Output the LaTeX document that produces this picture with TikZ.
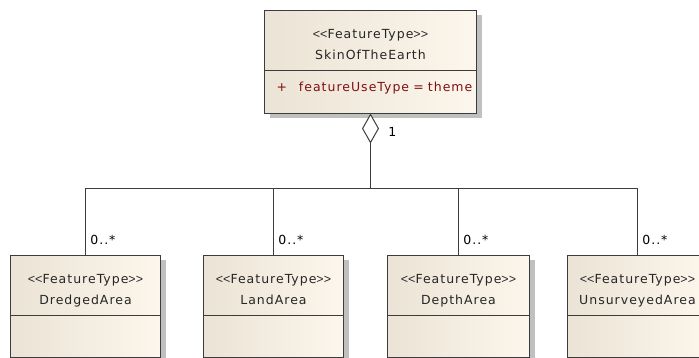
\documentclass[tikz,border=0pt]{standalone}
\usepackage{fontspec}
\setmainfont[LetterSpace=8]{DejaVu Sans}
\newfontfamily\ltgtfont{Liberation Sans}
\usepackage{tikz}
\usetikzlibrary{positioning, arrows.meta, backgrounds}
\definecolor{classleft}{RGB}{235,227,213}
\definecolor{classright}{RGB}{252,246,236}
\definecolor{umlline}{RGB}{60,60,60}
\definecolor{attrred}{RGB}{128,16,16}
\definecolor{shadowgray}{RGB}{192,192,192}
\tikzstyle{classhead} = [rectangle, draw=umlline, line width=1pt, left color=classleft, right color=classright, text=black!85, minimum height=60pt, inner sep=0pt, outer sep=0pt, text centered, font=\fontsize{12.5}{21.5}\selectfont]
\tikzstyle{classbody} = [classhead, minimum height=43pt]
\tikzstyle{assoc}     = [draw=umlline, line width=1pt]
\tikzstyle{aggr}      = [assoc, {Diamond[open, length=30pt, width=17pt, fill=white]}-]
\tikzstyle{mult}      = [anchor=south west, xshift=1pt, yshift=7pt]
\tikzset{every node/.style={align=center, font=\fontsize{12.5}{14}\selectfont}}
\newcommand{\stereo}[1]{{\ltgtfont{<}{<}}#1{\ltgtfont{>}{>}}}
\newcommand{\classtitle}[2]{\rule{0pt}{20pt}\stereo{#1}\\#2\rule[-3pt]{0pt}{3pt}}

\begin{document}
\begin{tikzpicture}[x=1pt, y=-1pt]
    \useasboundingbox (0,0) rectangle (699,358);

    \node (skin)     at (370.5, 40.5) [classhead, minimum width=212pt] {\classtitle{FeatureType}{SkinOfTheEarth}};
    \node (skinatt)  [classbody, below=0pt of skin, minimum width=212pt, text width=200pt, inner xsep=6pt, align=left, text=attrred]
        {\rule[-11pt]{0pt}{11pt}\hspace{6pt}+\hspace{12pt}featureUseType = theme};

    \node (dredged)  at ( 85.5, 285.5) [classhead, minimum width=150pt] {\classtitle{FeatureType}{DredgedArea}};
    \node (dredgedb) [classbody, below=0pt of dredged, minimum width=150pt, minimum height=42pt] {};
    \node (land)     at (273.5, 285.5) [classhead, minimum width=140pt] {\classtitle{FeatureType}{LandArea}};
    \node (landb)    [classbody, below=0pt of land, minimum width=140pt, minimum height=42pt] {};
    \node (depth)    at (458.5, 285.5) [classhead, minimum width=142pt] {\classtitle{FeatureType}{DepthArea}};
    \node (depthb)   [classbody, below=0pt of depth, minimum width=142pt, minimum height=42pt] {};
    \node (unsurv)   at (637.5, 285.5) [classhead, minimum width=140pt] {\classtitle{FeatureType}{UnsurveyedArea}};
    \node (unsurvb)  [classbody, below=0pt of unsurv, minimum width=140pt, minimum height=42pt] {};

    % white page and box shadows behind the classes
    \begin{scope}[on background layer]
        \fill[white] (0,0) rectangle (699,358);
        \foreach \head/\body in {skin/skinatt, dredged/dredgedb, land/landb, depth/depthb, unsurv/unsurvb}
            \fill[shadowgray] ([shift={(5pt,-5pt)}]\head.north west) rectangle ([shift={(5pt,-5pt)}]\body.south east);
    \end{scope}

    \coordinate (hub) at (370.5, 188.5);

    \draw [aggr] (skinatt.south) -- node[pos=0.25, right=14pt]{1} (hub);
    \draw [assoc] (hub) -| node[mult, pos=1]{0..*} (dredged.north);
    \draw [assoc] (hub) -| node[mult, pos=1]{0..*} (land.north);
    \draw [assoc] (hub) -| node[mult, pos=1]{0..*} (depth.north);
    \draw [assoc] (hub) -| node[mult, pos=1]{0..*} (unsurv.north);
\end{tikzpicture}
\end{document}
